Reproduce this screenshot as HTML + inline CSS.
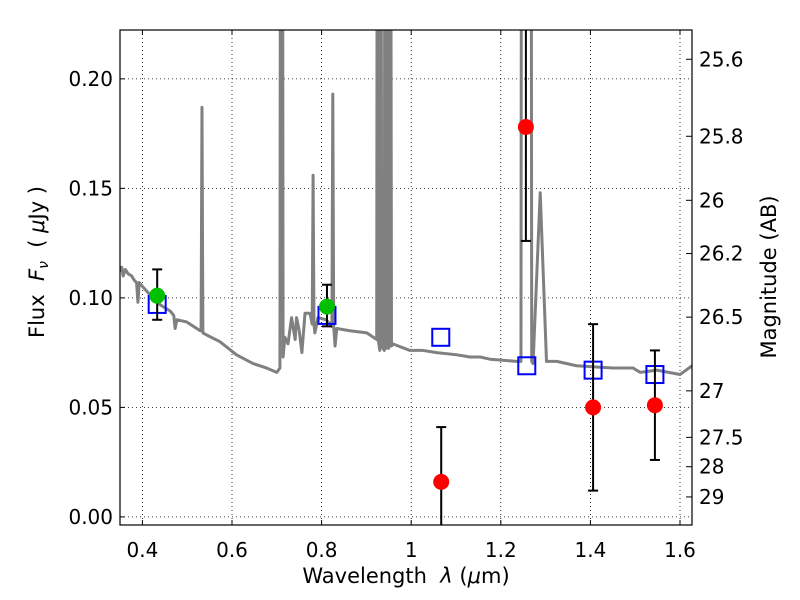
<!DOCTYPE html>
<html><head><meta charset="utf-8"><style>
body{margin:0;background:#fff}
svg{display:block;font-family:"DejaVu Sans","Liberation Sans",sans-serif}
</style></head><body>
<svg id="chart" width="800" height="600" viewBox="0 0 800 600" xmlns="http://www.w3.org/2000/svg"></svg>
<script>
const specLam=[0.350,0.354,0.357,0.362,0.368,0.376,0.382,0.387,0.390,0.393,0.401,0.432,0.446,0.462,0.470,0.473,0.477,0.499,0.529,0.531,0.533,0.535,0.544,0.573,0.610,0.647,0.677,0.700,0.707,0.709,0.712,0.714,0.718,0.725,0.733,0.741,0.744,0.750,0.756,0.763,0.774,0.779,0.781,0.783,0.785,0.792,0.810,0.823,0.825,0.827,0.830,0.834,0.863,0.901,0.923,0.925,0.927,0.930,0.932,0.934,0.940,0.942,0.945,0.948,0.950,0.953,0.956,0.959,0.997,1.026,1.057,1.102,1.131,1.154,1.176,1.235,1.245,1.247,1.267,1.269,1.272,1.288,1.302,1.325,1.369,1.450,1.495,1.511,1.548,1.600,1.627];
const specFlux=[0.112,0.114,0.110,0.113,0.111,0.110,0.108,0.107,0.098,0.107,0.105,0.098,0.096,0.094,0.092,0.086,0.090,0.089,0.085,0.085,0.187,0.084,0.083,0.080,0.074,0.070,0.068,0.066,0.068,0.5,0.5,0.073,0.082,0.079,0.091,0.081,0.091,0.085,0.075,0.093,0.093,0.088,0.156,0.088,0.084,0.091,0.090,0.087,0.193,0.087,0.078,0.086,0.085,0.084,0.081,0.5,0.080,0.076,0.5,0.078,0.076,0.5,0.077,0.5,0.077,0.5,0.078,0.079,0.076,0.076,0.075,0.074,0.073,0.073,0.072,0.071,0.071,0.5,0.5,0.071,0.070,0.148,0.071,0.071,0.069,0.068,0.068,0.066,0.067,0.065,0.069];
const modelLam=[0.433,0.812,1.066,1.258,1.406,1.544];
const modelFlux=[0.097,0.092,0.082,0.069,0.067,0.065];
const detLam=[0.433,0.812];
const detFlux=[0.101,0.096];
const detLo=[0.090,0.087];
const detHi=[0.113,0.106];
const ulLam=[1.067,1.256,1.406,1.544];
const ulFlux=[0.016,0.178,0.050,0.051];
const ulLo=[-0.01,0.126,0.012,0.026];
const ulHi=[0.041,0.5,0.088,0.076];
const xTicks=[0.4,0.6,0.8,1.0,1.2,1.4,1.6];
const xTickLabels=["0.4","0.6","0.8","1","1.2","1.4","1.6"];
const yTicks=[0,0.05,0.10,0.15,0.20];
const yTickLabels=["0.00","0.05","0.10","0.15","0.20"];
const magTicks=[25.6,25.8,26,26.2,26.5,27,27.5,28,29];
const magTickLabels=["25.6","25.8","26","26.2","26.5","27","27.5","28","29"];

const L=120,R=692,T=30,B=525;
const X0=0.35,X1=0.35+(R-L)/448,Y0=-0.0037,Y1=0.2223;
const sx=v=>L+(v-X0)/(X1-X0)*(R-L);
const sy=v=>B-(v-Y0)/(Y1-Y0)*(B-T);
const svg=document.getElementById('chart');
const NS="http://www.w3.org/2000/svg";
function mk(tag,attrs,parent){const e=document.createElementNS(NS,tag);for(const k in attrs)e.setAttribute(k,attrs[k]);(parent||svg).appendChild(e);return e;}

const defs=mk('defs',{});const cp=mk('clipPath',{id:'clip'},defs);mk('rect',{x:L,y:T,width:R-L,height:B-T},cp);

xTicks.forEach((t,i)=>{const x=sx(t);
 const g=mk('line',{x1:x,x2:x,y1:T,y2:B,stroke:'#000','stroke-width':0.8,'stroke-dasharray':'1,3'});
 
 const tk=mk('line',{x1:x,x2:x,y1:B,y2:B-5,stroke:'#000'});
 const tk2=mk('line',{x1:x,x2:x,y1:T,y2:T+5,stroke:'#000'});
 const tx=mk('text',{x:x,y:557,'text-anchor':'middle','font-size':20});tx.textContent=xTickLabels[i];
 });
yTicks.forEach((t,i)=>{const y=sy(t);
 const g=mk('line',{x1:L,x2:R,y1:y,y2:y,stroke:'#000','stroke-width':0.8,'stroke-dasharray':'1,3'});
 
 const tk=mk('line',{x1:L,x2:L+5,y1:y,y2:y,stroke:'#000'});
 const tx=mk('text',{x:113,y:y+7,'text-anchor':'end','font-size':20});tx.textContent=yTickLabels[i];
 });
magTicks.forEach((m,i)=>{const y=sy(Math.pow(10,(23.9-m)/2.5));
 const tk=mk('line',{x1:R,x2:R-6,y1:y,y2:y,stroke:'#000'});
 const tx=mk('text',{x:699,y:y+7,'text-anchor':'start','font-size':20});tx.textContent=magTickLabels[i];
 });

const plot=mk('g',{'clip-path':'url(#clip)'});

const sp=mk('polyline',{points:specLam.map((l,i)=>sx(l)+','+sy(specFlux[i])).join(' '),fill:'none',stroke:'#808080','stroke-width':3,'stroke-linejoin':'round'},plot);


modelLam.forEach((l,i)=>{const r=mk('rect',{x:sx(l)-8.5,y:sy(modelFlux[i])-8.5,width:17,height:17,fill:'none',stroke:'#0000ff','stroke-width':2},plot);
 });
function err(l,lo,hi){const x=sx(l);
 const e=mk('line',{x1:x,x2:x,y1:sy(lo),y2:sy(hi),stroke:'#000','stroke-width':2},plot);
 [lo,hi].forEach(v=>{const c=mk('line',{x1:x-5,x2:x+5,y1:sy(v),y2:sy(v),stroke:'#000','stroke-width':2},plot);});}
detLam.forEach((l,i)=>{err(l,detLo[i],detHi[i]);
 const c=mk('circle',{cx:sx(l),cy:sy(detFlux[i]),r:8,fill:'#00c000'},plot);});
ulLam.forEach((l,i)=>{err(l,ulLo[i],ulHi[i]);
 const c=mk('circle',{cx:sx(l),cy:sy(ulFlux[i]),r:8,fill:'#ff0000'},plot);});

const fr=mk('rect',{x:L,y:T,width:R-L,height:B-T,fill:'none',stroke:'#000','stroke-width':1.2});


const xl=mk('text',{x:406,y:583,'text-anchor':'middle','font-size':21});xl.innerHTML='Wavelength\u00a0\u00a0<tspan font-style="italic">λ</tspan> (<tspan font-style="italic">μ</tspan>m)';

const yl=mk('text',{x:0,y:0,'text-anchor':'middle','font-size':21,transform:'translate(44,262) rotate(-90)'});yl.innerHTML='Flux\u00a0\u00a0<tspan font-style="italic">F</tspan><tspan font-style="italic" font-size="14" dy="4">ν</tspan><tspan dy="-4">\u00a0\u00a0(\u00a0</tspan><tspan font-style="italic">μ</tspan>Jy )';

const rl=mk('text',{x:0,y:0,'text-anchor':'middle','font-size':21,transform:'translate(776,277) rotate(-90)'});rl.textContent='Magnitude (AB)';

</script>
</body></html>
